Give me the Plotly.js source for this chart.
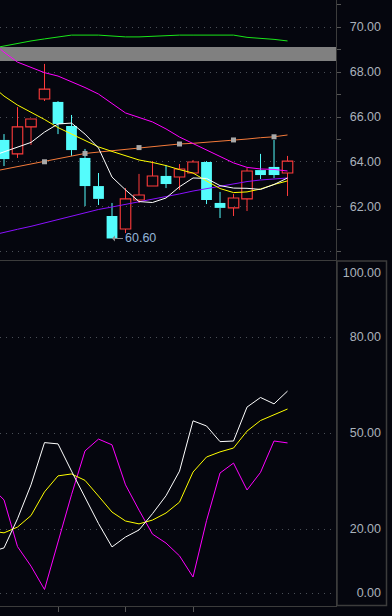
<!DOCTYPE html>
<html><head><meta charset="utf-8">
<script src="https://cdn.plot.ly/plotly-3.0.1.min.js"></script>
<style>html,body{margin:0;padding:0;background:#05060e;overflow:hidden}#chart{width:392px;height:616px}</style>
</head><body><div id="chart"></div>
<script>
// bar index (index -1 is the bar just off the left edge; only its indicator values are visible)
const barIndex = [-1,0,1,2,3,4,5,6,7,8,9,10,11,12,13,14,15,16,17,18,19,20,21];

// candles (bars 0..21)
const openP  = [64.98,64.36,65.56,66.80,66.67,65.60,64.18,62.93,61.60,61.02,62.31,62.93,63.38,63.33,63.51,64.00,62.18,61.96,62.36,63.64,63.78,63.51];
const highP  = [65.24,66.44,65.91,68.36,66.71,66.09,64.58,63.51,62.18,62.84,63.47,64.04,63.87,63.91,64.09,64.04,62.67,62.58,63.73,64.36,64.98,64.27];
const lowP   = [63.82,64.18,64.76,66.71,65.24,64.27,62.04,62.09,60.60,60.84,62.18,62.93,62.84,62.76,63.51,62.13,61.51,61.60,61.82,63.24,63.29,62.49];
const closeP = [64.13,65.56,65.91,67.24,65.69,64.53,62.93,62.36,60.60,62.36,62.53,63.38,63.02,63.69,64.00,62.31,61.96,62.40,63.60,63.42,63.42,64.04];

// moving averages (bars -1..21)
const maGreen  = [69.04,69.16,69.28,69.38,69.47,69.56,69.64,69.64,69.64,69.60,69.56,69.56,69.59,69.59,69.64,69.64,69.64,69.64,69.64,69.54,69.50,69.45,69.38];
const maMagenta= [69.40,68.88,68.44,68.20,67.97,67.82,67.58,67.31,67.02,66.58,66.18,65.98,65.78,65.47,65.11,64.82,64.53,64.22,63.96,63.76,63.69,63.67,63.60];
const maOrange = [63.56,63.68,63.79,63.89,64.01,64.13,64.27,64.38,64.44,64.50,64.58,64.64,64.69,64.74,64.80,64.83,64.87,64.92,64.98,65.02,65.08,65.12,65.20];
const maPurple = [60.73,60.88,61.01,61.14,61.29,61.44,61.60,61.75,61.89,62.00,62.11,62.24,62.36,62.47,62.58,62.71,62.81,62.93,63.04,63.13,63.20,63.24,63.29];
const maYellow = [67.44,66.93,66.53,66.22,65.89,65.53,65.24,64.98,64.67,64.47,64.27,64.09,63.98,63.84,63.66,63.51,63.16,62.82,62.64,62.67,62.80,63.00,63.16];
const maWhite  = [64.24,64.44,64.66,64.87,65.33,65.69,65.73,65.24,64.62,63.33,62.76,62.24,62.20,62.40,62.90,63.29,63.27,62.95,62.84,62.83,62.78,63.00,63.29];
const orangeMarkBars = [3,6,10,13,17,20];

// gray price band
const bandLow = 68.49, bandHigh = 69.11;

// oscillator (bars -1..21)
const oscK = [12.8,14.1,23.2,33.8,47.0,46.6,38.1,29.7,21.7,14.4,17.5,19.7,24.8,30.4,38.1,53.8,52.2,47.3,47.5,58.1,61.1,59.1,63.1];
const oscD = [19.4,18.8,20.6,24.2,31.6,36.6,37.2,35.2,30.3,25.3,22.5,21.6,22.8,25.0,28.4,37.8,42.5,44.1,45.3,50.6,53.9,55.6,57.5];
const oscJ = [33.3,29.1,14.5,8.4,1.1,16.3,30.7,44.4,48.1,46.3,33.8,25.9,18.4,15.6,11.6,5.0,22.6,37.5,40.6,32.2,37.7,47.5,46.9];

// tick values
const priceLabelTicks = [62,64,66,68,70];
const oscLabelTicks = [0,20,50,80,100];
const oscGridTicks = [0,20,50,80];
const dateTickBars = [4,9,14];

const BG = '#05060e';
const UP = '#ff3b3b', DOWN = '#54fcfc';
const candleBars = barIndex.slice(1);

// split candles into rising / falling, build bodies and wicks from the OHLC arrays
function candleParts(isUp) {
  const bx = [], base = [], h = [], wx = [], wy = [];
  candleBars.forEach((b, i) => {
    const up = closeP[i] >= openP[i];
    if (up !== isUp) return;
    const top = Math.max(openP[i], closeP[i]), bot = Math.min(openP[i], closeP[i]);
    bx.push(b); base.push(bot); h.push(Math.max(top - bot, 0.02));
    if (highP[i] > top) { wx.push(b, b, null); wy.push(highP[i], top, null); }
    if (lowP[i] < bot) { wx.push(b, b, null); wy.push(bot, lowP[i], null); }
  });
  return {bx, base, h, wx, wy};
}
const upC = candleParts(true), dnC = candleParts(false);

let lowMin = Infinity, lowAt = 0;
lowP.forEach((v,i)=>{ if (v < lowMin) { lowMin = v; lowAt = candleBars[i]; } });

const lw = 1;
const traces = [
  {type:'scatter', mode:'lines', x:dnC.wx, y:dnC.wy, line:{color:DOWN,width:1}, hoverinfo:'skip'},
  {type:'scatter', mode:'lines', x:upC.wx, y:upC.wy, line:{color:UP,width:1}, hoverinfo:'skip'},
  {type:'bar', x:dnC.bx, base:dnC.base, y:dnC.h, width:0.8, marker:{color:DOWN, line:{color:DOWN,width:0}}, hoverinfo:'skip'},
  {type:'bar', x:upC.bx, base:upC.base, y:upC.h, width:0.78, marker:{color:'rgba(0,0,0,0)', line:{color:UP,width:1.1}}, hoverinfo:'skip'},
  {type:'scatter', mode:'lines', x:barIndex, y:maGreen, line:{color:'#19e619',width:lw}, hoverinfo:'skip'},
  {type:'scatter', mode:'lines', x:barIndex, y:maOrange, line:{color:'#f47a3a',width:lw}, hoverinfo:'skip'},
  {type:'scatter', mode:'markers', x:orangeMarkBars, y:orangeMarkBars.map(b=>maOrange[barIndex.indexOf(b)]),
   marker:{symbol:'square', size:5, color:'#a9a9a9'}, hoverinfo:'skip'},
  {type:'scatter', mode:'lines', x:barIndex, y:maPurple, line:{color:'#8a10ff',width:lw}, hoverinfo:'skip'},
  {type:'scatter', mode:'lines', x:barIndex, y:maMagenta, line:{color:'#ff00ff',width:lw}, hoverinfo:'skip'},
  {type:'scatter', mode:'lines', x:barIndex, y:maYellow, line:{color:'#ffff00',width:lw}, hoverinfo:'skip'},
  {type:'scatter', mode:'lines', x:barIndex, y:maWhite, line:{color:'#ffffff',width:lw}, hoverinfo:'skip'},
  {type:'scatter', mode:'lines', x:barIndex, y:oscJ, line:{color:'#ff00ff',width:lw}, xaxis:'x2', yaxis:'y2', hoverinfo:'skip'},
  {type:'scatter', mode:'lines', x:barIndex, y:oscD, line:{color:'#ffff00',width:lw}, xaxis:'x2', yaxis:'y2', hoverinfo:'skip'},
  {type:'scatter', mode:'lines', x:barIndex, y:oscK, line:{color:'#ffffff',width:lw}, xaxis:'x2', yaxis:'y2', hoverinfo:'skip'},
  // invisible carriers so the label axes get a subplot
  {type:'scatter', mode:'lines', x:barIndex, y:maWhite, line:{color:'rgba(0,0,0,0)',width:0}, xaxis:'x', yaxis:'y3', hoverinfo:'skip'},
  {type:'scatter', mode:'lines', x:barIndex, y:oscK, line:{color:'rgba(0,0,0,0)',width:0}, xaxis:'x2', yaxis:'y4', hoverinfo:'skip'}
];

const W = 392, PLOT_H = 606;
const xDom = [0, 336/W];
const xRange = [-0.296, 24.59];
const mainDom = [1 - 260/PLOT_H, 1];
const oscDom = [0, (PLOT_H-261)/PLOT_H];
const mainRange = [59.644, 71.2];
const oscRange = [-4.06, 103.75];
const labelFont = {family:'Liberation Sans, Arial, sans-serif', size:12.5, color:'#aab2bc'};
const gridC = '#4a4f57', lineC = '#3c3c3c';

const layout = {
  width:392, height:616, paper_bgcolor:BG, plot_bgcolor:BG,
  margin:{l:0,r:0,t:0,b:10}, showlegend:false, barmode:'overlay',
  xaxis:{domain:xDom, range:xRange, anchor:'y', showgrid:false, zeroline:false, showticklabels:false, ticks:'',
         showline:true, linecolor:lineC, linewidth:1, fixedrange:true},
  yaxis:{domain:mainDom, range:mainRange, anchor:'x', side:'right', showgrid:true, gridcolor:gridC, griddash:'1px,5px',
         tick0:0, dtick:2, ticks:'outside', ticklen:4, tickcolor:'#555', showticklabels:false, zeroline:false,
         showline:true, linecolor:lineC, linewidth:1,
         minor:{dtick:1, ticks:'outside', ticklen:4, tickcolor:'#555', showgrid:false}},
  yaxis3:{overlaying:'y', anchor:'free', position:381/W, side:'left', range:mainRange, tickmode:'array',
          tickvals:priceLabelTicks, tickformat:'.2f', ticks:'', showgrid:false, zeroline:false, showline:false,
          tickfont:labelFont, ticklabelstandoff:0},
  xaxis2:{domain:xDom, range:xRange, anchor:'y2', showgrid:false, zeroline:false, showticklabels:false,
          tickmode:'array', tickvals:dateTickBars, ticks:'outside', ticklen:5, tickcolor:'#555',
          showline:true, linecolor:lineC, linewidth:1, fixedrange:true},
  yaxis2:{domain:oscDom, range:oscRange, anchor:'x2', side:'right', tickmode:'array', tickvals:oscGridTicks,
          showgrid:true, gridcolor:gridC, griddash:'1px,5px', ticks:'', showticklabels:false, zeroline:false,
          showline:true, linecolor:lineC, linewidth:1},
  yaxis4:{overlaying:'y2', anchor:'free', position:381/W, side:'left', range:oscRange, tickmode:'array',
          tickvals:oscLabelTicks, tickformat:'.2f', ticks:'', showgrid:false, zeroline:false, showline:false,
          tickfont:labelFont, ticklabelstandoff:0},
  shapes:[
    {type:'rect', xref:'paper', yref:'y', x0:0, x1:336/W, y0:bandLow, y1:bandHigh, fillcolor:'#808080', line:{width:0}, layer:'below'},
    {type:'rect', xref:'paper', yref:'paper', x0:337/W, x1:386.5/W, y0:0.5/PLOT_H, y1:(PLOT_H-261)/PLOT_H, fillcolor:'rgba(0,0,0,0)', line:{color:lineC,width:1.5}}
  ],
  annotations:[
    {x:lowAt, y:lowMin, xref:'x', yref:'y', text:lowMin.toFixed(2), showarrow:true, ax:28, ay:0,
     arrowhead:1, arrowsize:1, arrowwidth:1, arrowcolor:'#8a8a8a', standoff:0,
     font:{family:'Liberation Sans, Arial, sans-serif', size:12.5, color:'#93b4d8'}}
  ]
};

Plotly.newPlot('chart', traces, layout, {staticPlot:true, displayModeBar:false});
</script></body></html>
